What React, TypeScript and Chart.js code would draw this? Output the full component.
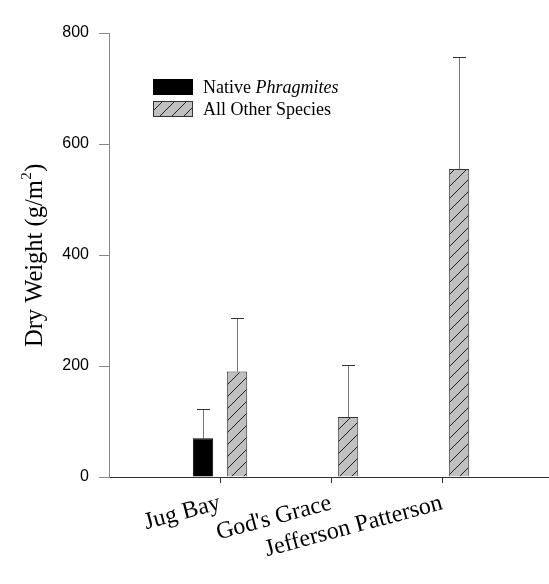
import React, { useEffect, useRef } from "react";
import { Chart, registerables } from "chart.js";

Chart.register(...registerables);

const categories = ["Jug Bay", "God's Grace", "Jefferson Patterson"];
const categoryPositions = [1, 2, 3];
const nativeValues = [70, null, null];
const nativeErrors = [52, null, null];
const otherValues = [190, 108, 555];
const otherErrors = [96, 93, 202];
const yTicks = [0, 200, 400, 600, 800];
const seriesNames = ["Native ", "Phragmites", "All Other Species"];
const yTitleParts = ["Dry Weight (g/m", "2", ")"];

const SERIF = '"Liberation Serif", "Times New Roman", serif';
const SANS = '"Liberation Sans", Arial, sans-serif';

function makeHatch(): CanvasPattern | string {
  const s = 12;
  const c = document.createElement("canvas");
  c.width = s;
  c.height = s;
  const g = c.getContext("2d");
  if (!g) return "#c0c0c0";
  g.fillStyle = "#c0c0c0";
  g.fillRect(0, 0, s, s);
  g.strokeStyle = "#222";
  g.lineWidth = 1;
  g.beginPath();
  g.moveTo(0, s);
  g.lineTo(s, 0);
  g.moveTo(-2, 2);
  g.lineTo(2, -2);
  g.moveTo(s - 2, s + 2);
  g.lineTo(s + 2, s - 2);
  g.stroke();
  const p = g.createPattern(c, "repeat");
  return p || "#c0c0c0";
}

export default function App() {
  const ref = useRef<HTMLCanvasElement | null>(null);

  useEffect(() => {
    const canvas = ref.current;
    if (!canvas) return;
    const hatch = makeHatch();
    const errs = [nativeErrors, otherErrors];

    const errorBars = {
      id: "errorBars",
      afterDatasetsDraw(chart: any) {
        const ctx = chart.ctx;
        const ys = chart.scales.y;
        chart.data.datasets.forEach((ds: any, di: number) => {
          const meta = chart.getDatasetMeta(di);
          meta.data.forEach((el: any, j: number) => {
            const v = ds.data[j].y;
            const e = errs[di][j];
            if (v == null || e == null) return;
            const x = Math.round(el.x) + 0.5;
            const yb = ys.getPixelForValue(v);
            const yt = Math.round(ys.getPixelForValue(v + e)) + 0.5;
            ctx.save();
            ctx.lineWidth = 1;
            ctx.strokeStyle = "#777";
            ctx.beginPath();
            ctx.moveTo(x, yb);
            ctx.lineTo(x, yt);
            ctx.stroke();
            ctx.strokeStyle = "#333";
            ctx.beginPath();
            ctx.moveTo(x - 6.5, yt);
            ctx.lineTo(x + 6.5, yt);
            ctx.stroke();
            ctx.restore();
          });
        });
      },
    };

    const decorations = {
      id: "decorations",
      afterDraw(chart: any) {
        const ctx = chart.ctx;
        ctx.save();
        // legend
        const bx = 153, bw = 40, bh = 16;
        const rows = [79, 101];
        ctx.fillStyle = "#000";
        ctx.fillRect(bx, rows[0], bw, bh);
        ctx.fillStyle = hatch as any;
        ctx.fillRect(bx, rows[1], bw, bh);
        ctx.strokeStyle = "#333";
        ctx.lineWidth = 1;
        ctx.strokeRect(bx + 0.5, rows[1] + 0.5, bw - 1, bh - 1);
        ctx.fillStyle = "#000";
        ctx.textAlign = "left";
        ctx.textBaseline = "alphabetic";
        ctx.font = `18px ${SERIF}`;
        const tx = 203;
        ctx.fillText(seriesNames[0], tx, rows[0] + 14);
        const w0 = ctx.measureText(seriesNames[0]).width;
        ctx.font = `italic 18px ${SERIF}`;
        ctx.fillText(seriesNames[1], tx + w0, rows[0] + 14);
        ctx.font = `18px ${SERIF}`;
        ctx.fillText(seriesNames[2], tx, rows[1] + 14);
        // y title
        ctx.translate(42, 347);
        ctx.rotate(-Math.PI / 2);
        ctx.font = `24.5px ${SERIF}`;
        ctx.fillText(yTitleParts[0], 0, 0);
        let w = ctx.measureText(yTitleParts[0]).width;
        ctx.font = `15px ${SERIF}`;
        ctx.fillText(yTitleParts[1], w + 0.5, -11);
        w += ctx.measureText(yTitleParts[1]).width + 1;
        ctx.font = `24.5px ${SERIF}`;
        ctx.fillText(yTitleParts[2], w, 0);
        ctx.restore();
      },
    };

    const chart = new Chart(canvas, {
      type: "bar",
      data: {
        datasets: [
          {
            label: seriesNames[0] + seriesNames[1],
            data: categoryPositions.map((x, i) => ({ x, y: nativeValues[i] })) as any,
            backgroundColor: "#000",
            borderColor: "#000",
            borderWidth: 1,
          },
          {
            label: seriesNames[2],
            data: categoryPositions.map((x, i) => ({ x, y: otherValues[i] })) as any,
            backgroundColor: hatch as any,
            borderColor: "#333",
            borderWidth: 1,
          },
        ],
      },
      options: {
        animation: false,
        responsive: false,
        categoryPercentage: 0.613,
        barPercentage: 0.6,
        layout: { padding: { top: 33, right: 0, bottom: 0, left: 0 } },
        plugins: {
          legend: { display: false },
          tooltip: { enabled: false },
          title: { display: false },
        },
        scales: {
          x: {
            type: "linear",
            min: 0,
            max: 440 / 111,
            offset: false,
            grid: {
              drawOnChartArea: false,
              offset: false,
              tickLength: 6,
              color: "#333",
            },
            border: { color: "#333", width: 1 },
            afterBuildTicks: (scale: any) => {
              scale.ticks = categoryPositions.map((v) => ({ value: v }));
            },
            afterFit: (scale: any) => {
              scale.height = 107;
            },
            ticks: {
              autoSkip: false,
              minRotation: 15,
              maxRotation: 15,
              padding: 6,
              color: "#000",
              font: { family: SERIF, size: 24 },
              callback: (v: any) => {
                const i = categoryPositions.indexOf(Number(v));
                return i >= 0 ? categories[i] : "";
              },
            },
          },
          y: {
            min: 0,
            max: 800,
            grid: {
              drawOnChartArea: false,
              tickLength: 10,
              color: "#888",
            },
            border: { color: "#888", width: 1 },
            afterBuildTicks: (scale: any) => {
              scale.ticks = yTicks.map((v) => ({ value: v }));
            },
            afterFit: (scale: any) => {
              scale.width = 109;
            },
            ticks: {
              padding: 10,
              color: "#000",
              font: { family: SANS, size: 16 },
            },
          },
        },
      },
      plugins: [errorBars, decorations],
    } as any);

    return () => chart.destroy();
  }, []);

  return (
    <div style={{ position: "fixed", left: 0, top: 0, width: 549, height: 584, background: "#fff" }}>
      <canvas ref={ref} width={549} height={584} style={{ display: "block" }} />
    </div>
  );
}
